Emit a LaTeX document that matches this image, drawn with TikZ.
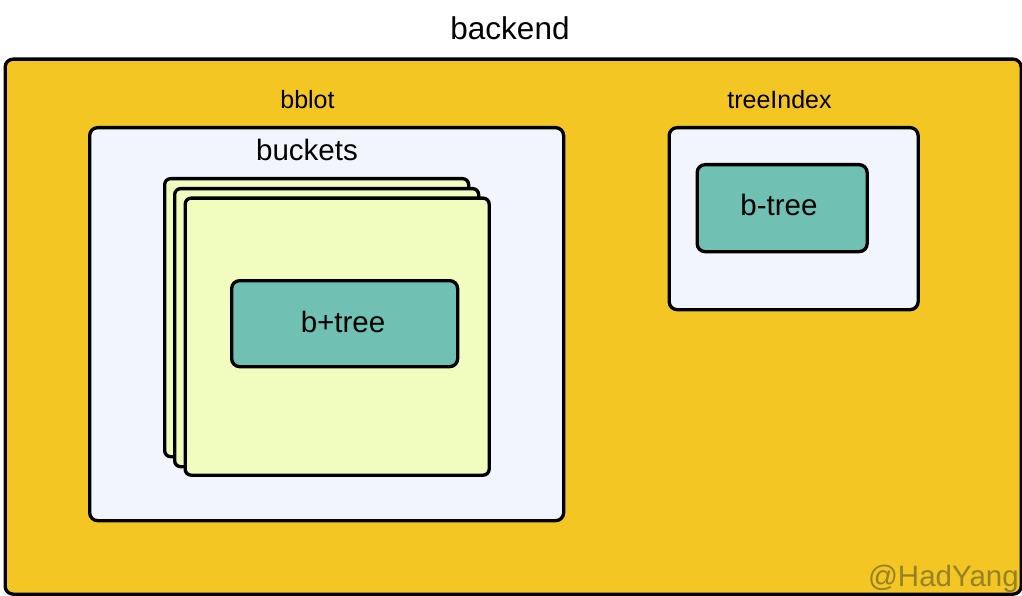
\documentclass[tikz,border=0pt]{standalone}
\usepackage{fontspec}
\setmainfont{Liberation Sans}
\definecolor{bgyellow}{HTML}{F3C623}
\definecolor{lightbox}{HTML}{F2F5FE}
\definecolor{cardfill}{HTML}{F1FDBF}
\definecolor{teal}{HTML}{70C1B3}
\definecolor{wm}{HTML}{968126}
\tikzset{
  frame/.style={draw=black, line width=3.3pt, rounded corners=8pt, anchor=north west, inner sep=0pt},
  lbl/.style={anchor=base, inner sep=0pt, text=black},
}
\begin{document}
\begin{tikzpicture}[x=1pt,y=-1pt]
\useasboundingbox (0,0) rectangle (1022,596);
% outer backend
\node (backend) [frame, fill=bgyellow, minimum width=1016pt, minimum height=535pt] at (3.5,57.5) {};
\node (backendlbl) [lbl, font=\fontsize{31.5}{31.5}\selectfont] at (510,39.5) {backend};
% bblot
\node (bblot) [frame, fill=lightbox, minimum width=474pt, minimum height=393pt] at (88,126) {};
\node (bblotlbl) [lbl, font=\fontsize{25}{25}\selectfont] at (307.5,109) {bblot};
\node (bucketslbl) [lbl, font=\fontsize{29.5}{29.5}\selectfont] at (307,160.5) {buckets};
% stacked buckets
\node (card1) [frame, fill=cardfill, rounded corners=6pt, minimum width=304pt, minimum height=278pt] at (163,177) {};
\node (card2) [frame, fill=cardfill, rounded corners=6pt, minimum width=304pt, minimum height=278pt] at (173,187) {};
\node (card3) [frame, fill=cardfill, rounded corners=6pt, minimum width=304pt, minimum height=277pt] at (183.5,196.5) {};
\node (bplus) [frame, fill=teal, minimum width=226pt, minimum height=86pt] at (230,279) {};
\node (bpluslbl) [lbl, font=\fontsize{29.5}{29.5}\selectfont] at (343,332) {b+tree};
% treeIndex
\node (tree) [frame, fill=lightbox, minimum width=249pt, minimum height=182pt] at (667.5,126) {};
\node (treelbl) [lbl, font=\fontsize{25}{25}\selectfont] at (779.5,109) {treeIndex};
\node (btree) [frame, fill=teal, minimum width=170pt, minimum height=87pt] at (695.5,163) {};
\node (btreelbl) [lbl, font=\fontsize{29.5}{29.5}\selectfont] at (779,215.5) {b-tree};
% watermark
\node (wmark) [lbl, anchor=base east, text=wm, font=\fontsize{29.5}{29.5}\selectfont] at (1019,586) {@HadYang};
\end{tikzpicture}
\end{document}
